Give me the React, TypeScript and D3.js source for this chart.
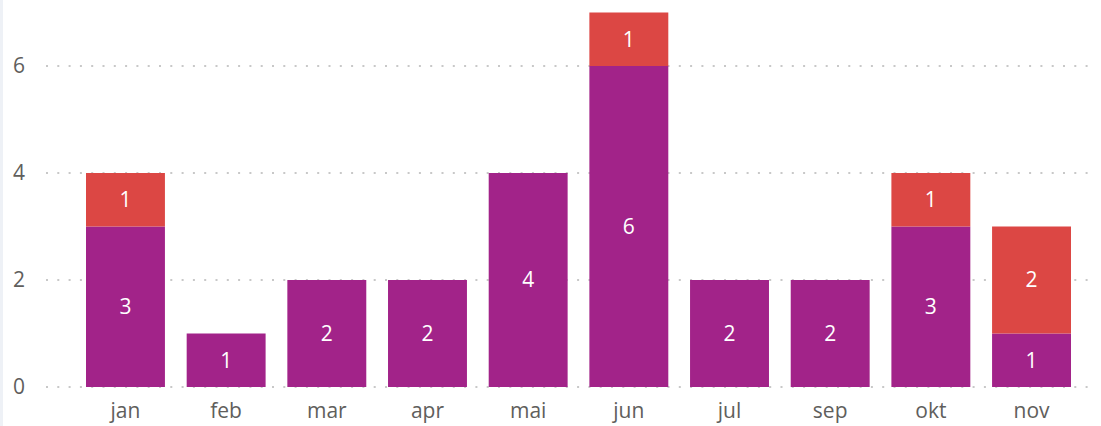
import React, { useEffect, useRef } from "react";
import * as d3 from "d3";

const months = ["jan", "feb", "mar", "apr", "mai", "jun", "jul", "sep", "okt", "nov"];
const seriesA = [3, 1, 2, 2, 4, 6, 2, 2, 3, 1];
const seriesB = [1, 0, 0, 0, 0, 1, 0, 0, 1, 2];
const yTicks = [0, 2, 4, 6];
const colors = ["#A22389", "#DC4744"];

const W = 1101;
const H = 426;

export default function App() {
  const ref = useRef<SVGSVGElement>(null);
  useEffect(() => {
    const svg = d3.select(ref.current);
    svg.selectAll("*").remove();
    const font = "'Open Sans', 'Segoe UI', sans-serif";

    svg.append("rect").attr("x", 0).attr("y", 0).attr("width", 3).attr("height", H).attr("fill", "#EEF1F6");

    const x = d3.scaleBand<string>().domain(months).range([86, 1071]).paddingInner(0.216).paddingOuter(0);
    const y = d3.scaleLinear().domain([0, 6]).range([387, 66]);

    const grid = svg.append("g");
    yTicks.forEach((t) => {
      grid
        .append("line")
        .attr("x1", 46)
        .attr("x2", 1096)
        .attr("y1", y(t))
        .attr("y2", y(t))
        .attr("stroke", "#C8C8C8")
        .attr("stroke-width", 2)
        .attr("stroke-dasharray", "2 9.3");
      svg
        .append("text")
        .attr("x", 25)
        .attr("y", y(t))
        .attr("dy", "0.35em")
        .attr("text-anchor", "end")
        .attr("font-family", font)
        .attr("font-size", 21)
        .attr("fill", "#605E5C")
        .text(String(t));
    });

    const rows = months.map((m, i) => ({ m, a: seriesA[i], b: seriesB[i] }));
    const stack = d3.stack<any>().keys(["a", "b"])(rows as any);

    stack.forEach((layer, li) => {
      const g = svg.append("g");
      layer.forEach((d: any) => {
        const v = d[1] - d[0];
        if (v <= 0) return;
        const m = d.data.m;
        g.append("rect")
          .attr("x", x(m)!)
          .attr("width", x.bandwidth())
          .attr("y", y(d[1]))
          .attr("height", y(d[0]) - y(d[1]))
          .attr("fill", colors[li]);
        g.append("text")
          .attr("x", x(m)! + x.bandwidth() / 2)
          .attr("y", (y(d[0]) + y(d[1])) / 2)
          .attr("dy", "0.35em")
          .attr("text-anchor", "middle")
          .attr("font-family", font)
          .attr("font-size", 21)
          .attr("fill", "#FFFFFF")
          .text(String(v));
      });
    });

    months.forEach((m) => {
      svg
        .append("text")
        .attr("x", x(m)! + x.bandwidth() / 2)
        .attr("y", 411)
        .attr("dy", "0.35em")
        .attr("text-anchor", "middle")
        .attr("font-family", font)
        .attr("font-size", 21)
        .attr("fill", "#605E5C")
        .text(m);
    });
  }, []);

  return (
    <svg
      ref={ref}
      width={W}
      height={H}
      style={{ position: "absolute", left: 0, top: 0, background: "#fff" }}
    />
  );
}
